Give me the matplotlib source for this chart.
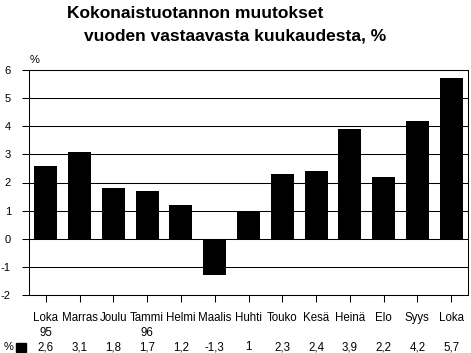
import matplotlib
matplotlib.use("Agg")
import matplotlib.pyplot as plt
import matplotlib.transforms as mtransforms

plt.rcParams['font.family'] = ['Liberation Sans', 'DejaVu Sans']

# data
months = ['Loka', 'Marras', 'Joulu', 'Tammi', 'Helmi', 'Maalis', 'Huhti',
          'Touko', 'Kesä', 'Heinä', 'Elo', 'Syys', 'Loka']
years = ['95', '', '', '96', '', '', '', '', '', '', '', '', '']
values = [2.6, 3.1, 1.8, 1.7, 1.2, -1.3, 1, 2.3, 2.4, 3.9, 2.2, 4.2, 5.7]
value_labels = ['2,6', '3,1', '1,8', '1,7', '1,2', '-1,3', '1',
                '2,3', '2,4', '3,9', '2,2', '4,2', '5,7']
yticks = [-2, -1, 0, 1, 2, 3, 4, 5, 6]

fig = plt.figure(figsize=(4.71, 3.53), dpi=100)
ax = fig.add_axes([29/471, 58/353, 439/471, 225/353])

x = list(range(len(values)))
ax.bar(x, values, width=0.68, color='black', zorder=3)

ax.set_xlim(-0.5, len(values) - 0.5)
ax.set_ylim(-2, 6)
ax.set_yticks(yticks)
ax.set_yticklabels([str(v) for v in yticks], fontsize=8)
ax.grid(axis='y', color='black', linewidth=0.75, zorder=1)
ax.set_axisbelow(True)

for s in ax.spines.values():
    s.set_linewidth(0.75)
    s.set_color('black')

ax.tick_params(axis='y', direction='out', length=5, width=0.75, pad=8)
ax.tick_params(axis='x', direction='out', length=5, width=0.75, pad=12)
ax.set_xticks(x)
ax.set_xticklabels([])

trans = mtransforms.blended_transform_factory(ax.transData, fig.transFigure)
for i in x:
    ax.text(i, 1 - 318/353, months[i], transform=trans, ha='center', va='center', fontsize=8.3)
    if years[i]:
        ax.text(i, 1 - 333/353, years[i], transform=trans, ha='center', va='center', fontsize=8.3)
    ax.text(i, 1 - 347/353, value_labels[i], transform=trans, ha='center', va='center', fontsize=8.3)

# legend key of the data table row
fig.text(4/471, 1 - 347/353, '%', ha='left', va='center', fontsize=8)
fig.patches.append(plt.Rectangle((16/471, 1 - 352/353), 10/471, 9/353,
                                 transform=fig.transFigure, color='black'))

fig.text(30/471, 1 - 60/353, '%', ha='left', va='center', fontsize=8)

fig.text(67/471, 1 - 13/353, 'Kokonaistuotannon muutokset', ha='left', va='center',
         fontsize=12.5, fontweight='bold')
fig.text(84/471, 1 - 36/353, 'vuoden vastaavasta kuukaudesta, %', ha='left', va='center',
         fontsize=12.5, fontweight='bold')

fig.savefig('out.png', dpi=100)
